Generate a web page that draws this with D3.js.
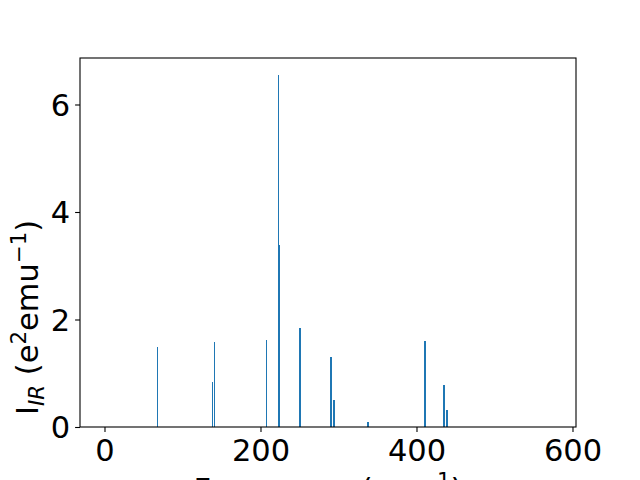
<!DOCTYPE html>
<html><head><meta charset="utf-8">
<script src="https://cdn.jsdelivr.net/npm/d3@7"></script>
<style>body{margin:0;background:#fff}svg{display:block}text{font-family:"DejaVu Sans",sans-serif}</style>
</head><body><svg id="c" width="640" height="480"></svg>
<script>
// Data
const frequencies = [67.9, 138.5, 141.0, 207.7, 223.1, 223.7, 250.6, 290.4, 294.2, 337.8, 410.9, 435.3, 439.1];
const intensities = [1.49, 0.84, 1.58, 1.62, 6.55, 3.39, 1.84, 1.30, 0.50, 0.093, 1.60, 0.78, 0.32];
const xTicks = [0, 200, 400, 600];
const yTicks = [0, 2, 4, 6];
const xDomain = [-31.4, 604.5];
const yDomain = [0, 6.865];
const barWidthUnits = 2;

const W = 640, H = 480;
const L = 80, R = 576, T = 58, B = 427;
const svg = d3.select("#c");
const x = d3.scaleLinear().domain(xDomain).range([L, R]);
const y = d3.scaleLinear().domain(yDomain).range([B, T]);
const FS = 30.5;
const color = "#1f77b4";

// bars
const data = frequencies.map((f, i) => ({f, v: intensities[i]}));
svg.append("g").selectAll("rect").data(data).join("rect")
  .attr("shape-rendering", "crispEdges")
  .attr("x", d => Math.round(x(d.f - barWidthUnits / 2)))
  .attr("width", d => Math.max(1, Math.round(x(d.f + barWidthUnits / 2)) - Math.round(x(d.f - barWidthUnits / 2))))
  .attr("y", d => Math.round(y(d.v)))
  .attr("height", d => B - Math.round(y(d.v)))
  .attr("fill", color);

// frame
svg.append("rect").attr("x", L).attr("y", T).attr("width", R - L).attr("height", B - T)
  .attr("fill", "none").attr("stroke", "#000").attr("stroke-width", 1.1);

// x axis
const xa = svg.append("g").attr("transform", `translate(0,${B})`)
  .call(d3.axisBottom(x).tickValues(xTicks).tickSize(4.9).tickPadding(4.9).tickFormat(d3.format("d")));
xa.select(".domain").remove();
xa.selectAll("line").attr("stroke", "#000").attr("stroke-width", 1.1);
xa.selectAll("text").attr("font-size", FS).attr("fill", "#000").attr("font-family", "DejaVu Sans")
  .attr("dy", null).attr("y", 34.2);

// y axis
const ya = svg.append("g").attr("transform", `translate(${L},0)`)
  .call(d3.axisLeft(y).tickValues(yTicks).tickSize(4.9).tickPadding(4.9).tickFormat(d3.format("d")));
ya.select(".domain").remove();
ya.selectAll("line").attr("stroke", "#000").attr("stroke-width", 1.1);
ya.selectAll("text").attr("font-size", FS).attr("fill", "#000").attr("font-family", "DejaVu Sans")
  .attr("dy", "0.36em");

// x label
const xl = svg.append("text").attr("x", (L + R) / 2).attr("y", 499.5)
  .attr("text-anchor", "middle").attr("font-size", FS).attr("fill", "#000");
xl.append("tspan").text("Frequency (cm");
xl.append("tspan").attr("dy", -12).attr("font-size", FS * 0.7).text("\u22121");
xl.append("tspan").attr("dy", 12).text(")");

// y label
const yl = svg.append("text").attr("transform", "translate(38,415) rotate(-90)")
  .attr("text-anchor", "start").attr("font-size", FS).attr("fill", "#000");
yl.append("tspan").text("I");
yl.append("tspan").attr("dy", 6).attr("font-size", FS * 0.7).attr("font-style", "italic").text("IR");
yl.append("tspan").attr("dy", -6).text(" (e");
yl.append("tspan").attr("dy", -12).attr("font-size", FS * 0.7).text("2");
yl.append("tspan").attr("dy", 12).text("emu");
yl.append("tspan").attr("dy", -12).attr("font-size", FS * 0.7).text("\u22121");
yl.append("tspan").attr("dy", 12).text(")");
</script></body></html>
